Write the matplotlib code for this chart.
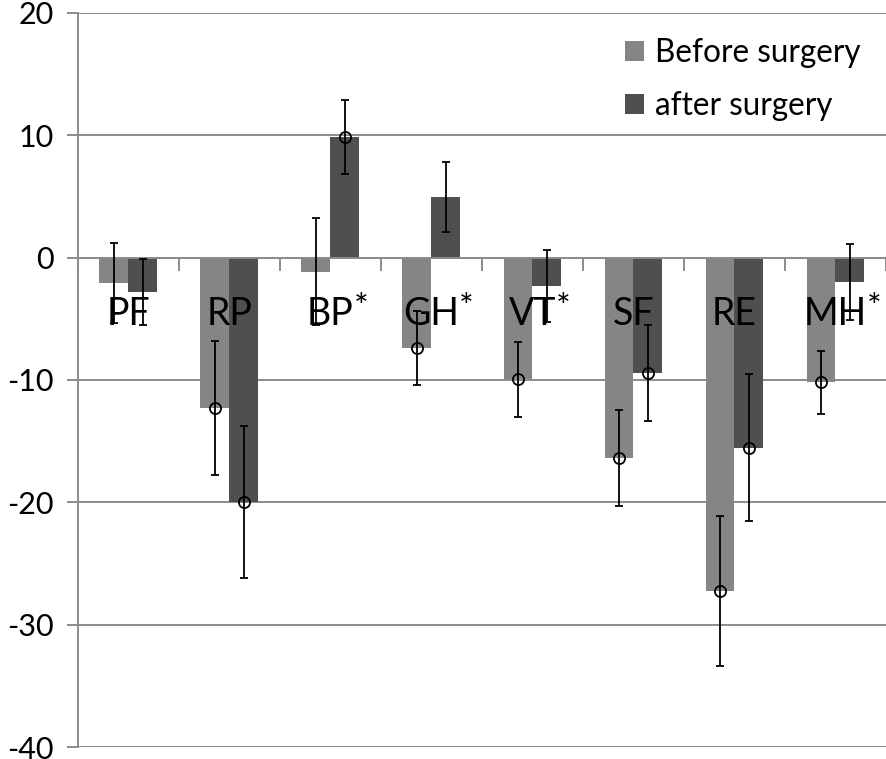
import matplotlib.pyplot as plt
import numpy as np

plt.rcParams['font.family'] = ['Lato', 'DejaVu Sans']
plt.rcParams['axes.unicode_minus'] = False

# datos
categorias = ['PF', 'RP', 'BP', 'GH', 'VT', 'SF', 'RE', 'MH']
con_asterisco = [False, False, True, True, True, False, False, True]

antes = [-2.1, -12.3, -1.15, -7.4, -9.95, -16.35, -27.25, -10.2]
despues = [-2.85, -19.95, 9.85, 4.95, -2.3, -9.42, -15.55, -2.03]

error_antes = [3.25, 5.45, 4.35, 3.05, 3.08, 3.92, 6.15, 2.58]
error_despues = [2.7, 6.2, 3.05, 2.88, 2.95, 3.94, 6.0, 3.1]

# puntos que llevan circulo en la media
circulo_antes = [False, True, False, True, True, True, True, True]
circulo_despues = [False, True, True, False, False, True, True, False]

gris_claro = '#858585'
gris_oscuro = '#4f4f4f'
gris_eje = '#8c8c8c'

fig = plt.figure(figsize=(8.86, 7.59), dpi=100)
ax = fig.add_axes([0.0877, 0.0155, 0.9123, 0.9678])

x = np.arange(len(categorias))
ancho = 1 / 3.5

ax.bar(x - ancho / 2, antes, ancho, color=gris_claro, label='Before surgery', zorder=2)
ax.bar(x + ancho / 2, despues, ancho, color=gris_oscuro, label='after surgery', zorder=2)

for i, nombre in enumerate(categorias):
    t = ax.text(i, -5.55, nombre, ha='center', va='baseline', fontsize=27,
                color='black', zorder=3)
    if con_asterisco[i]:
        ax.annotate('*', xy=(1, 1), xycoords=t, xytext=(0, 3),
                    textcoords='offset points', ha='left', va='top',
                    fontsize=25, color='black', zorder=3)

for desplaz, valores, errores, circulos in [(-ancho / 2, antes, error_antes, circulo_antes),
                                            (ancho / 2, despues, error_despues, circulo_despues)]:
    xs = x + desplaz
    ax.errorbar(xs, valores, yerr=errores, fmt='none', ecolor='black',
                elinewidth=1.3, capsize=3, capthick=1.3, zorder=4)
    idx = [k for k, c in enumerate(circulos) if c]
    ax.plot(xs[idx], np.array(valores)[idx], 'o', ms=8, mfc='none',
            mec='black', mew=1.3, zorder=5)

ax.set_xlim(-0.5, 7.5)
ax.set_ylim(-40, 20)
ax.set_yticks(np.arange(-40, 21, 10))
ax.set_xticks(np.arange(-0.5, 8, 1))
ax.set_xticklabels([])

ax.yaxis.grid(True, color=gris_eje, linewidth=1.4)
ax.set_axisbelow(True)

for lado in ['top', 'right']:
    ax.spines[lado].set_visible(False)
ax.spines['bottom'].set_position(('data', 0))
ax.spines['bottom'].set_color(gris_eje)
ax.spines['bottom'].set_linewidth(1.4)
ax.spines['left'].set_color(gris_eje)
ax.spines['left'].set_linewidth(1.4)

ax.tick_params(axis='x', direction='out', length=9.5, width=1.4, color=gris_eje)
ax.tick_params(axis='y', direction='out', length=8, width=1.4, color=gris_eje,
               labelsize=22, pad=9)

ax.legend(loc='upper left', bbox_to_anchor=(0.677, 0.966), frameon=False,
          fontsize=22.7, handlelength=0.6, handleheight=0.6,
          handletextpad=0.35, labelspacing=0.74, borderpad=0, borderaxespad=0)

fig.savefig('out.png', dpi=100)
